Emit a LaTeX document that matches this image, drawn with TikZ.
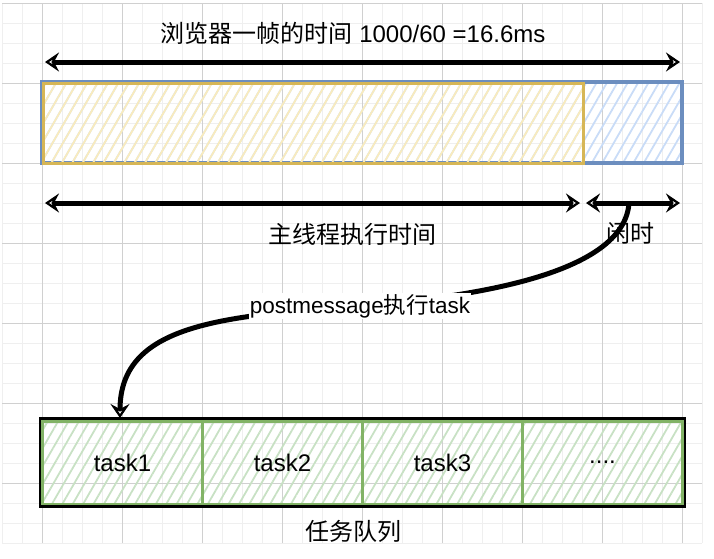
\documentclass[tikz,border=0pt]{standalone}
\usepackage{fontspec}
\setmainfont{Liberation Sans}
\newfontfamily\cjk{Noto Sans CJK SC}
\usepackage{xcolor}
\usetikzlibrary{arrows.meta,positioning,patterns.meta}
\definecolor{gridmaj}{HTML}{D0D0D0}
\definecolor{gridmin}{HTML}{EFEFEF}
\definecolor{bluestroke}{HTML}{6C8EBF}
\definecolor{bluefill}{HTML}{C9DCF7}
\definecolor{yelstroke}{HTML}{D6B656}
\definecolor{yelfill}{HTML}{F9EBBD}
\definecolor{grnstroke}{HTML}{82B366}
\definecolor{grnfill}{HTML}{C8E1C4}

\begin{document}
\begin{tikzpicture}[
    x=1pt, y=-1pt,
    lbl/.style={font=\fontsize{24}{28}\selectfont, inner sep=1pt},
    hatch/.style={pattern={Lines[angle=60,distance=9pt,line width=1.8pt]}},
    dim/.style={{Stealth[open,length=14pt,width=19pt,inset=5pt]}-{Stealth[open,length=14pt,width=19pt,inset=5pt]}, line width=5pt},
    flow/.style={-{Stealth[open,length=14pt,width=19pt,inset=5pt]}, line width=5pt},
    cell/.style={draw=grnstroke, line width=3pt, hatch, pattern color=grnfill, minimum width=160pt, minimum height=83pt, outer sep=0pt, lbl}
]
\useasboundingbox (0,0) rectangle (714,558);

% background grid
\foreach \gx in {2,22,...,702} \draw[gridmin, line width=1pt] (\gx,3) -- (\gx,543);
\foreach \gy in {3,23,...,543} \draw[gridmin, line width=1pt] (2,\gy) -- (702,\gy);
\foreach \gx in {42,122,...,682} \draw[gridmaj, line width=0.9pt] (\gx,3) -- (\gx,543);
\foreach \gy in {3,83,...,483} \draw[gridmaj, line width=0.9pt] (2,\gy) -- (702,\gy);

% one frame
\draw[bluestroke, line width=4pt, hatch, pattern color=bluefill] (42,82) rectangle (682,163);
\draw[yelstroke, line width=3pt, hatch, pattern color=yelfill] (43,83) rectangle (583,163);

% task queue
\node[cell] (t1) at (122.5,462.5) {task1};
\node[cell, right=0pt of t1] (t2) {task2};
\node[cell, right=0pt of t2] (t3) {task3};
\node[cell, right=0pt of t3] (t4) {....};
\draw[line width=3.5pt] ([shift={(-2pt,2pt)}]t1.north west) rectangle ([shift={(2pt,-2pt)}]t4.south east);
\draw[grnstroke, line width=2.5pt] (t1.north west) rectangle (t4.south east);

% measuring arrows
\coordinate (a1) at (45,62);
\coordinate (a2) at (680,62);
\coordinate (m1) at (45,203);
\coordinate (m2) at (580,203);
\coordinate (g1) at (586,203);
\coordinate (g2) at (680,203);
\coordinate (gap) at (629,203);
\coordinate (mid) at (360,306);
\draw[dim] (a1) -- (a2);
\draw[dim] (m1) -- (m2);
\draw[dim] (g1) -- (g2);
\draw[flow] (gap) .. controls (624,275) and (470,297) .. (mid)
    .. controls (220,316) and (120,325) .. ([xshift=-2.5pt,yshift=3pt]t1.north);

% labels
\node[lbl] (title) at (353,33) {{\cjk 浏览器一帧的时间} 1000/60 =16.6ms};
\node[lbl] (mainlbl) at (352,234) {\cjk 主线程执行时间};
\node[lbl] (idlelbl) at (630,233) {\cjk 闲时};
\node[lbl, fill=white, font=\fontsize{22.5}{27}\selectfont] (pm) at (mid) {postmessage{\cjk 执行}task};
\node[lbl] (queue) at (353,531) {\cjk 任务队列};
\end{tikzpicture}
\end{document}
